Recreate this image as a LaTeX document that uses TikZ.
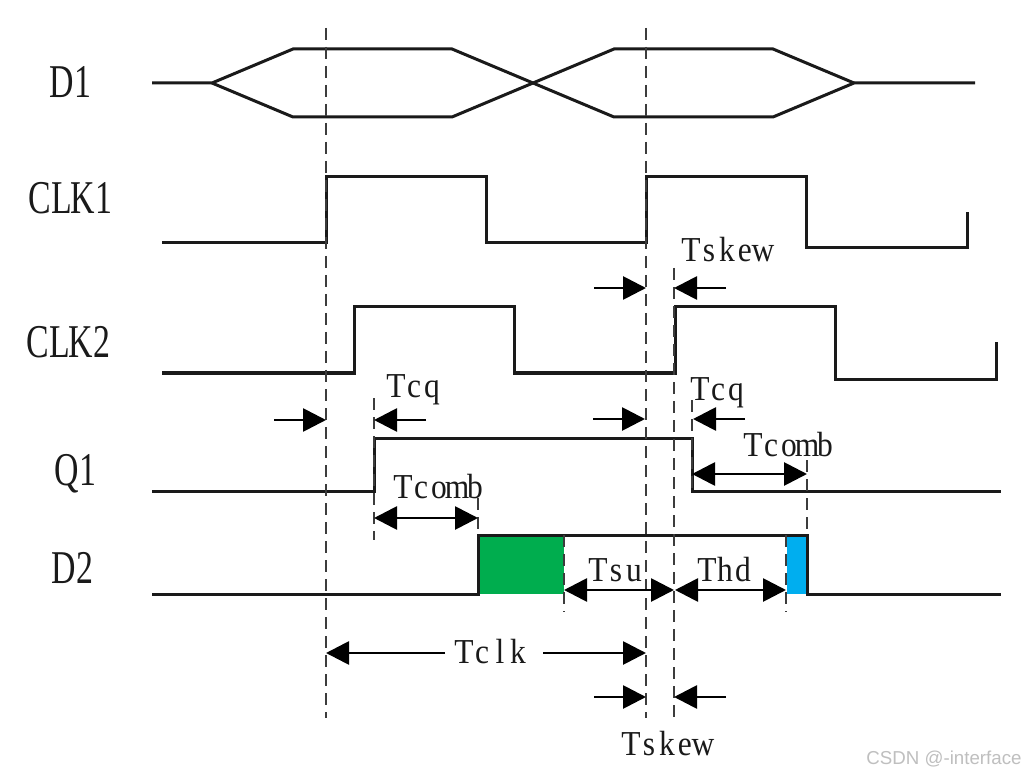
\documentclass[tikz,border=0pt]{standalone}
\usepackage{fontspec}
\setmainfont{Liberation Serif}
\newfontfamily\wmfont{Liberation Sans}
\usetikzlibrary{arrows.meta}
\definecolor{wavegreen}{HTML}{00AD4E}
\definecolor{waveblue}{HTML}{00AEEF}
\definecolor{inkcol}{HTML}{1A1A1A}
\newlength{\cellw}
\def\cellloop#1{\ifx#1\relax\else\makebox[\cellw][c]{#1}\expandafter\cellloop\fi}
\newcommand{\mono}[2]{\setlength{\cellw}{#1}\cellloop#2\relax}
\tikzset{
  wave/.style={draw=inkcol,line width=3pt,line join=miter},
  guide/.style={draw=inkcol!85,line width=1.7pt,dash pattern=on 12pt off 7pt},
  dim/.style={draw=black,line width=2.8pt,-{Triangle[length=23pt,width=23pt]}},
  dimboth/.style={draw=black,line width=2.8pt,{Triangle[length=23pt,width=23pt]}-{Triangle[length=23pt,width=23pt]}},
  siglabel/.style={anchor=base,inner sep=0pt,text=inkcol,font=\fontsize{47}{50}\selectfont,xscale=.72},
  timelabel/.style={anchor=base,inner sep=0pt,text=inkcol,font=\fontsize{35}{38}\selectfont,xscale=.9},
  watermark/.style={anchor=base,inner sep=0pt,text=black!25,font=\wmfont\fontsize{18.7}{20}\selectfont}
}
\begin{document}
\begin{tikzpicture}[x=1pt,y=-1pt]
\useasboundingbox (0,0) rectangle (1025,775);
\fill[white] (0,0) rectangle (1025,775);
% colour blocks
\fill[wavegreen] (478,535) rectangle (564,594);
\fill[waveblue] (787,535) rectangle (807,594);
% waveforms
\draw[wave] (152,83) -- (212,83) -- (293,49) -- (452,49) -- (614,117) -- (773,117) -- (854,83) -- (975,83);
\draw[wave] (212,83) -- (293,117) -- (452,117) -- (614,49) -- (773,49) -- (854,83);
\draw[wave] (162,243) -- (326,243) -- (326,177) -- (486,177) -- (486,243) -- (646,243) -- (646,177) -- (806,177) -- (806,248) -- (967,248) -- (967,212);
\draw[wave] (162,373) -- (354,373) -- (354,307) -- (514,307) -- (514,373) -- (675,373) -- (675,307) -- (835,307) -- (835,379) -- (996,379) -- (996,342);
\draw[wave] (152,491) -- (374,491) -- (374,438) -- (692,438) -- (692,491) -- (1001,491);
\draw[wave] (152,594) -- (478,594) -- (478,535) -- (807,535) -- (807,594) -- (1001,594);
% guides
\draw[guide] (326,28) -- (326,718);
\draw[guide] (646,28) -- (646,718);
\draw[guide] (674,268) -- (674,718);
\draw[guide] (374,398) -- (374,540);
\draw[guide] (692,400) -- (692,491);
\draw[guide] (478,498) -- (478,535);
\draw[guide] (564,535) -- (564,612);
\draw[guide] (807,460) -- (807,535);
\draw[guide] (786,535) -- (786,612);
% dimension arrows
\draw[dim] (594,288) -- (646,288);
\draw[dim] (726,288) -- (674,288);
\draw[dim] (274,420) -- (326,420);
\draw[dim] (426,420) -- (374,420);
\draw[dim] (593,419) -- (645,419);
\draw[dim] (745,419) -- (693,419);
\draw[dimboth] (692,474) -- (807,474);
\draw[dimboth] (374,518) -- (478,518);
\draw[dimboth] (564,590) -- (674,590);
\draw[dimboth] (675,590) -- (786,590);
\draw[dim] (445,653) -- (326,653);
\draw[dim] (543,653) -- (646,653);
\draw[dim] (594,697) -- (646,697);
\draw[dim] (726,697) -- (674,697);
% signal labels
\node[siglabel] (d1) at (72,98) {\mono{29.5pt}{D1}};
\node[siglabel] (clk1) at (72,214) {\mono{29.5pt}{CLK1}};
\node[siglabel] (clk2) at (70,358) {\mono{29.5pt}{CLK2}};
\node[siglabel] (q1) at (77,485) {\mono{29.5pt}{Q1}};
\node[siglabel] (d2) at (74,583) {\mono{29.5pt}{D2}};
% timing labels
\node[timelabel] (skewa) at (727,262) {\mono{20pt}{Tskew}};
\node[timelabel] (cqa) at (414,397) {\mono{20pt}{Tcq}};
\node[timelabel] (cqb) at (718,400) {\mono{20pt}{Tcq}};
\node[timelabel] (comba) at (789,456) {\mono{20pt}{Tcomb}};
\node[timelabel] (combb) at (439,498) {\mono{20pt}{Tcomb}};
\node[timelabel] (su) at (616,581) {\mono{20pt}{Tsu}};
\node[timelabel] (hd) at (725,581) {\mono{20pt}{Thd}};
\node[timelabel] (tclk) at (491,663) {\mono{20pt}{Tclk}};
\node[timelabel] (skewb) at (667,755) {\mono{20pt}{Tskew}};
\node[watermark] (mark) at (944,764) {CSDN @-interface};
\end{tikzpicture}
\end{document}
